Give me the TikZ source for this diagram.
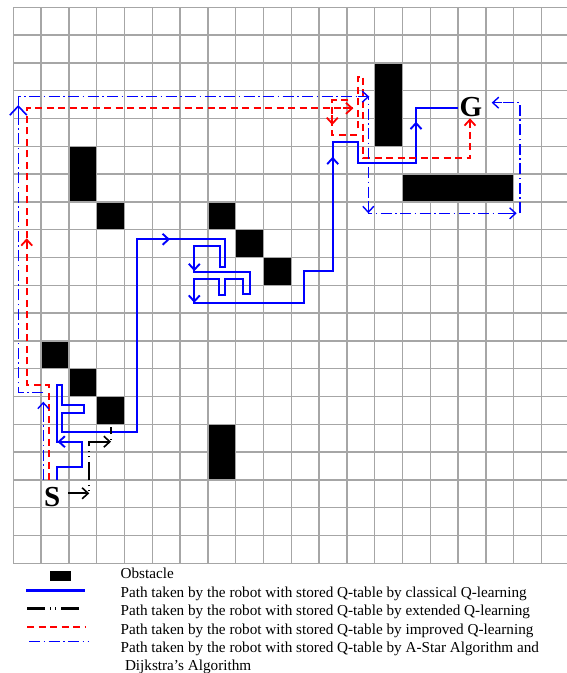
\documentclass[tikz,border=0pt]{standalone}
\usepackage{fontspec}
\setmainfont{Liberation Serif}
\usetikzlibrary{arrows.meta}
\begin{document}
\begin{tikzpicture}[x=1pt,y=-1pt,
  gridl/.style={draw=black!35, line width=1.5pt},
  obst/.style={fill=black, draw=black!35, line width=1.5pt},
  qblue/.style={draw=blue, line width=1.9pt},
  qblack/.style={draw=black, line width=1.8pt, dash pattern=on 18pt off 5pt on 1pt off 4pt on 1pt off 5pt},
  qred/.style={draw=red, line width=1.9pt, dash pattern=on 7pt off 4.5pt},
  qdd/.style={draw=blue, line width=1.4pt, dash pattern=on 11pt off 3.5pt on 1.5pt off 3.5pt},
  tip/.style={solid, -{Straight Barb[length=6pt,width=11pt]}},
  bigtip/.style={solid, -{Straight Barb[length=9pt,width=17pt]}},
  lab/.style={font=\bfseries\fontsize{29}{29}\selectfont, inner sep=0pt},
  legtext/.style={font=\fontsize{15.2}{18}\selectfont, anchor=base west, inner sep=0pt}
]
\useasboundingbox (0,0) rectangle (567,673);
\fill[white] (0,0) rectangle (567,673);
\clip (0,0) rectangle (567,673);
% grid
\foreach \k in {0,...,20} {
  \draw[gridl] ({13.3+27.8*\k},7.3) -- ({13.3+27.8*\k},563.3);
  \draw[gridl] (13.3,{7.3+27.8*\k}) -- (569.3,{7.3+27.8*\k});
}
% obstacles
\foreach \c/\r/\w/\h in {13/2/1/3, 14/6/4/1, 2/5/1/2, 3/7/1/1, 7/7/1/1, 8/8/1/1, 9/9/1/1, 1/12/1/1, 2/13/1/1, 3/14/1/1, 7/15/1/2}
  \draw[obst] ({13.3+27.8*\c},{7.3+27.8*\r}) rectangle ++({27.8*\w},{27.8*\h});

% classical Q-learning (blue solid)
\draw[qblue] (57.3,480) -- (57.3,466.7) -- (81.7,466.7) -- (81.7,441.7) -- (56.7,441.7) -- (56.7,385) -- (62.3,385) -- (62.3,405) -- (84,405) -- (84,412.7) -- (62.3,412.7) -- (62.3,431.7) -- (136.7,431.7) -- (136.7,239.3) -- (225,239.3) -- (225,267.3) -- (220,267.3) -- (220,246) -- (194.3,246) -- (194.3,271.7) -- (250,271.7) -- (250,294) -- (242.7,294) -- (242.7,279.3) -- (225,279.3) -- (225,295) -- (219.3,295) -- (219.3,279.3) -- (194.3,279.3) -- (194.3,303.3) -- (304,303.3) -- (304,270.7) -- (332.7,270.7) -- (332.7,141.7) -- (357.7,141.7) -- (357.7,163.3) -- (416,163.3) -- (416,107.7) -- (458.3,107.7);
\draw[qblue,tip] (62,441.7) -- (57.5,441.7);
\draw[qblue,tip] (160,239.3) -- (170,239.3);
\draw[qblue,tip] (194.3,262) -- (194.3,271.2);
\draw[qblue,tip] (194.3,293) -- (194.3,302.8);
\draw[qblue,tip] (332.7,170) -- (332.7,156.7);
\draw[qblue,tip] (416,135) -- (416,121.7);

% extended Q-learning (black)
\draw[qblack] (68.3,493.3) -- (89.3,493.3) -- (89.3,441.7) -- (111,441.7) -- (111,426.7);
\draw[black,line width=1.6pt,tip] (80,493.3) -- (89.3,493.3);
\draw[black,line width=1.6pt,tip] (100,441.7) -- (111,441.7);

% improved Q-learning (red dashed)
\draw[qred] (49,480) -- (49,385) -- (26.7,385) -- (26.7,108.3) -- (353.3,108.3);
\draw[qred] (348.3,100) -- (332.3,100) -- (332.3,135) -- (361.7,135);
\draw[qred] (358.3,128.3) -- (358.3,76.7) -- (363.3,76.7) -- (363.3,158.3) -- (470,158.3) -- (470,118.3);
\draw[red,line width=1.8pt,tip] (26.7,248) -- (26.7,238.3);
\draw[red,line width=1.8pt,tip] (343,108.3) -- (353.3,108.3);
\draw[red,line width=1.8pt,tip] (332.3,115) -- (332.3,125);
\draw[red,line width=1.8pt,tip] (470,128) -- (470,118.3);

% A-Star / Dijkstra (blue dash-dot)
\draw[qdd] (43.3,480) -- (43.3,401.7);
\draw[qdd] (43.3,392.3) -- (18.3,392.3) -- (18.3,96.7) -- (368.3,96.7) -- (368.3,213.3) -- (516.7,213.3);
\draw[qdd] (520,213.3) -- (520,102.7) -- (491.7,102.7);
\draw[blue,line width=1.4pt,tip] (43.3,411) -- (43.3,401.7);
\draw[blue,line width=1.6pt,bigtip] (18.3,120) -- (18.3,105);
\draw[blue,line width=1.4pt,tip] (358,96.7) -- (369.3,96.7);
\draw[blue,line width=1.4pt,tip] (368.3,203) -- (368.3,213.3);
\draw[blue,line width=1.4pt,tip] (506,213.3) -- (516.7,213.3);
\draw[blue,line width=1.4pt,tip] (502,102.7) -- (491.7,102.7);

% start and goal
\node[lab] (S) at (52.2,496.7) {S};
\node[lab] (G) at (471,106.7) {G};

% legend
\fill[black] (49.5,570.5) rectangle (71.2,581);
\draw[blue,line width=2.2pt] (26.4,590.5) -- (85,590.5);
\draw[qblack,line width=2.2pt] (27,608.5) -- (80,608.5);
\draw[qred] (27,627) -- (86,627);
\draw[qdd] (29,641.5) -- (88,641.5);
\node[legtext] (l1) at (120.4,578.5) {Obstacle};
\node[legtext] (l2) at (120.4,597) {Path taken by the robot with stored Q-table by classical Q-learning};
\node[legtext] (l3) at (120.4,615.5) {Path taken by the robot with stored Q-table by extended Q-learning};
\node[legtext] (l4) at (120.4,634) {Path taken by the robot with stored Q-table by improved Q-learning};
\node[legtext] (l5) at (120.4,652.5) {Path taken by the robot with stored Q-table by A-Star Algorithm and};
\node[legtext] (l6) at (124.8,670) {Dijkstra’s Algorithm};
\end{tikzpicture}
\end{document}
